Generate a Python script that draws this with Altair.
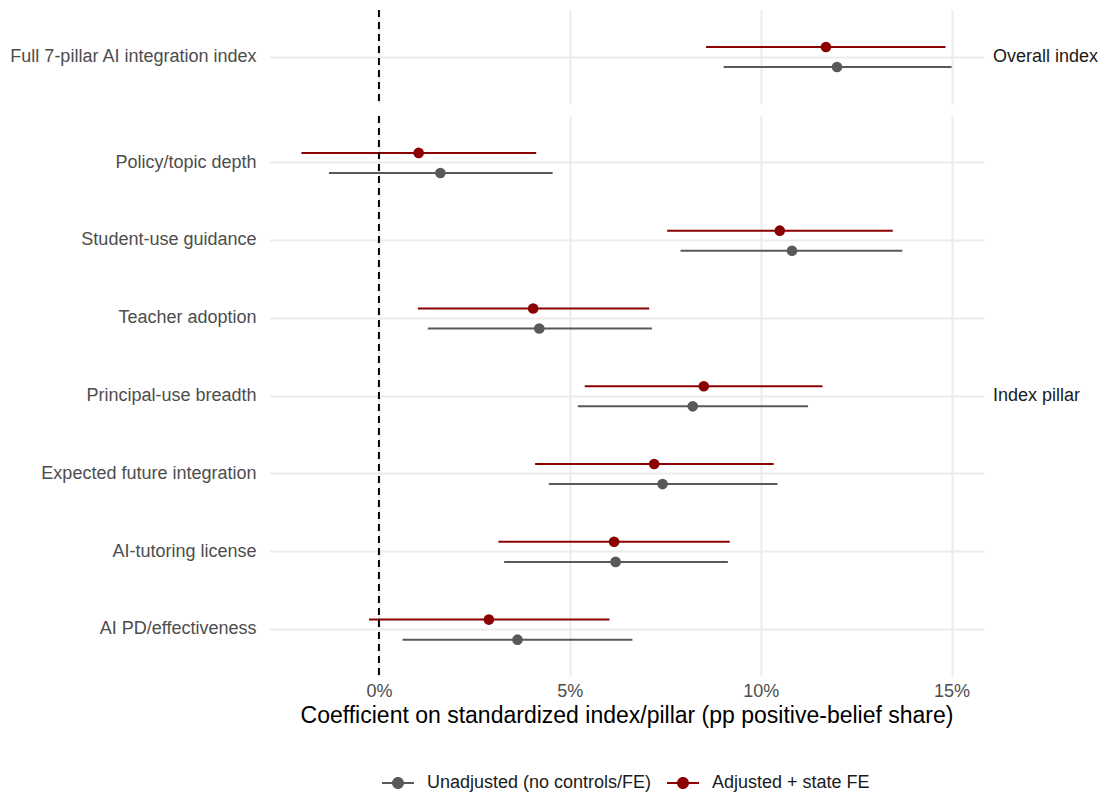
import altair as alt
import pandas as pd

# ---------------- data ----------------
overall_terms = ["Full 7-pillar AI integration index"]
pillar_terms = [
    "Policy/topic depth",
    "Student-use guidance",
    "Teacher adoption",
    "Principal-use breadth",
    "Expected future integration",
    "AI-tutoring license",
    "AI PD/effectiveness",
]
model_unadj = "Unadjusted (no controls/FE)"
model_adj = "Adjusted + state FE"
panel_names = ["Overall index", "Index pillar"]

overall_adj_est = [11.71]
overall_adj_lo = [8.57]
overall_adj_hi = [14.84]
overall_unadj_est = [12.00]
overall_unadj_lo = [9.03]
overall_unadj_hi = [15.00]

pillar_adj_est = [1.04, 10.50, 4.04, 8.51, 7.21, 6.16, 2.88]
pillar_adj_lo = [-2.03, 7.55, 1.02, 5.39, 4.09, 3.13, -0.26]
pillar_adj_hi = [4.12, 13.46, 7.08, 11.62, 10.34, 9.19, 6.04]
pillar_unadj_est = [1.61, 10.82, 4.20, 8.22, 7.43, 6.20, 3.63]
pillar_unadj_lo = [-1.31, 7.90, 1.28, 5.21, 4.45, 3.28, 0.62]
pillar_unadj_hi = [4.55, 13.71, 7.15, 11.24, 10.44, 9.14, 6.64]

x_ticks = [0, 5, 10, 15]
x_domain = [-2.88, 15.85]


def build(terms, panel, adj, unadj):
    rows = []
    for i, t in enumerate(terms):
        rows.append(dict(term=t, panel=panel, model=model_adj,
                         est=adj[0][i], lo=adj[1][i], hi=adj[2][i]))
        rows.append(dict(term=t, panel=panel, model=model_unadj,
                         est=unadj[0][i], lo=unadj[1][i], hi=unadj[2][i]))
    return pd.DataFrame(rows)


df_top = build(overall_terms, panel_names[0],
               (overall_adj_est, overall_adj_lo, overall_adj_hi),
               (overall_unadj_est, overall_unadj_lo, overall_unadj_hi))
df_bot = build(pillar_terms, panel_names[1],
               (pillar_adj_est, pillar_adj_lo, pillar_adj_hi),
               (pillar_unadj_est, pillar_unadj_lo, pillar_unadj_hi))

FONT = "Liberation Sans"
GRID = "#EBEBEB"
RED = "#8B0000"
GREY = "#595959"
W = 715

# line + dot key; nominal symbol box 16px, drawn 32px wide
legend_path = ("M-2,-0.12H2V0.12H-2Z "
               "M-0.75,0A0.75,0.75 0 1,1 0.75,0A0.75,0.75 0 1,1 -0.75,0Z")

color = alt.Color(
    "model:N",
    scale=alt.Scale(domain=[model_unadj, model_adj], range=[GREY, RED]),
    legend=alt.Legend(
        title=None, orient="none", direction="horizontal",
        legendX=120, legendY=764,
        symbolType=legend_path, symbolSize=256, symbolStrokeWidth=0,
        labelFontSize=18, labelFont=FONT, labelColor="#1A1A1A",
        columnPadding=15, labelOffset=20, labelLimit=0,
    ),
)


def panel(df, terms, panel_name, height, bottom):
    xscale = alt.Scale(domain=x_domain, nice=False, zero=False)
    if bottom:
        xaxis = alt.Axis(values=x_ticks, labelExpr="datum.value + '%'",
                         title="Coefficient on standardized index/pillar (pp positive-belief share)",
                         ticks=False, tickSize=0, domain=False, grid=True,
                         labelPadding=6, titlePadding=4)
    else:
        xaxis = alt.Axis(values=x_ticks, labels=False, ticks=False, tickSize=0,
                         domain=False, title=None, grid=True)
    y = alt.Y("term:N", sort=terms,
              scale=alt.Scale(domain=terms, paddingInner=0, paddingOuter=0.1),
              axis=alt.Axis(title=None, bandPosition=0.5, ticks=False, tickSize=0,
                            domain=False, grid=True, labelPadding=13, labelLimit=0))
    yoff = alt.YOffset("model:N",
                       scale=alt.Scale(domain=[model_adj, model_unadj],
                                       paddingInner=0, paddingOuter=0.95))
    base = alt.Chart(df)
    rules = base.mark_rule(strokeWidth=2).encode(
        x=alt.X("lo:Q", scale=xscale, axis=xaxis), x2="hi:Q",
        y=y, yOffset=yoff, color=color)
    points = base.mark_circle(size=113, opacity=1).encode(
        x=alt.X("est:Q", scale=xscale, axis=xaxis),
        y=y, yOffset=yoff, color=color)
    zero = base.mark_rule(strokeDash=[7, 5], strokeWidth=2, color="black").encode(
        x=alt.datum(0)).transform_aggregate(n="count()", groupby=["panel"])
    strip = alt.TitleParams(
        text=panel_name, orient="right", angle=0, align="right", baseline="middle",
        anchor="middle", offset=9, fontSize=18, fontWeight="normal",
        color="#1A1A1A", font=FONT)
    return alt.layer(rules, points, zero).properties(
        width=W, height=height, title=strip)


top = panel(df_top, overall_terms, panel_names[0], 94, False)
bot = panel(df_bot, pillar_terms, panel_names[1], 560, True)

chart = alt.vconcat(top, bot, spacing=10).resolve_scale(color="shared").configure(
    font=FONT,
    padding={"left": 8, "right": 0, "top": 9, "bottom": 0},
).configure_view(stroke=None).configure_axis(
    gridColor=GRID, gridWidth=2, labelFont=FONT, labelFontSize=18,
    labelColor="#4D4D4D", titleFont=FONT, titleFontSize=23, titleColor="#000000",
    titleFontWeight="normal",
)

chart.save("out.html", embed_options={"renderer": "svg", "actions": False})
